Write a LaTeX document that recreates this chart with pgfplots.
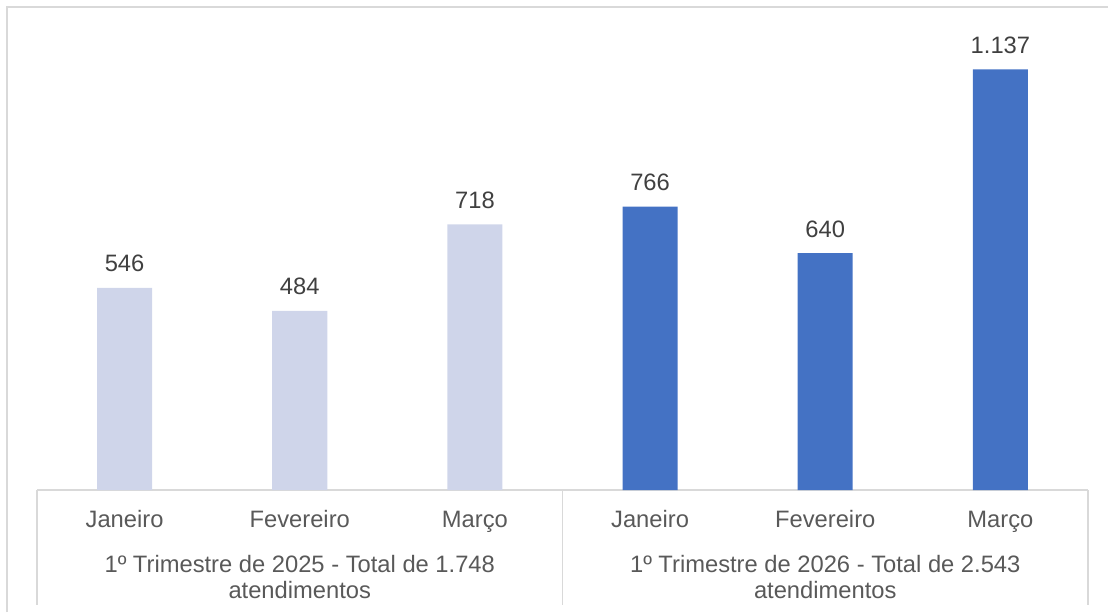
\documentclass[border=0pt]{standalone}
\usepackage{fontspec}
\setmainfont{Liberation Sans}
\usepackage{pgfplots}
\pgfplotsset{compat=1.18}
\definecolor{lightbar}{HTML}{CFD5EA}
\definecolor{darkbar}{HTML}{4472C4}
\definecolor{gridgray}{HTML}{D9D9D9}
\definecolor{labelgray}{HTML}{404040}
\definecolor{catgray}{HTML}{595959}
\newcommand{\chartfont}{\fontsize{17.8}{21}\selectfont}

\begin{document}
\begin{tikzpicture}
% page = 1108 x 612 px of the reference, 1 px = 0.75pt
\useasboundingbox (0,0) rectangle (831pt,459pt);
\draw[gridgray, line width=1.5pt] (5.25pt,0) -- (5.25pt,453.75pt) -- (831pt,453.75pt);
\begin{axis}[
    at={(27.75pt,91.5pt)}, anchor=south west,
    scale only axis,
    width=788.25pt,
    height=346.875pt,
    ybar, bar width=41.25pt, bar shift=0pt,
    xmin=-0.5, xmax=5.5,
    ymin=0, ymax=1250,
    axis x line*=bottom,
    axis y line=none,
    x axis line style={gridgray, line width=1.2pt, -},
    xtick={0,...,5},
    xticklabels={Janeiro,Fevereiro,Março,Janeiro,Fevereiro,Março},
    major tick length=0pt,
    xticklabel style={font=\chartfont, text=catgray, anchor=base, yshift=-27.75pt},
    ytick=\empty,
    /pgf/number format/assume math mode=true,
    /pgf/number format/1000 sep={.},
    nodes near coords,
    every node near coord/.append style={font=\chartfont, text=labelgray, anchor=base, yshift=12pt},
    clip=false,
]
\addplot[fill=lightbar, draw=none] coordinates {(0,546) (1,484) (2,718)};
\addplot[fill=darkbar, draw=none] coordinates {(3,766) (4,640) (5,1137)};
% category table lines
\draw[gridgray, line width=1.2pt] (axis cs:-0.5,0) -- ++(0pt,-86.25pt);
\draw[gridgray, line width=1.2pt] (axis cs:2.5,0) -- ++(0pt,-86.25pt);
\draw[gridgray, line width=1.2pt] (axis cs:5.5,0) -- ++(0pt,-86.25pt);
% group labels
\node[anchor=base, font=\chartfont, text=catgray] at ([yshift=-61.5pt]axis cs:1,0) {1º Trimestre de 2025 - Total de 1.748};
\node[anchor=base, font=\chartfont, text=catgray] at ([yshift=-81pt]axis cs:1,0) {atendimentos};
\node[anchor=base, font=\chartfont, text=catgray] at ([yshift=-61.5pt]axis cs:4,0) {1º Trimestre de 2026 - Total de 2.543};
\node[anchor=base, font=\chartfont, text=catgray] at ([yshift=-81pt]axis cs:4,0) {atendimentos};
\end{axis}
\end{tikzpicture}
\end{document}
